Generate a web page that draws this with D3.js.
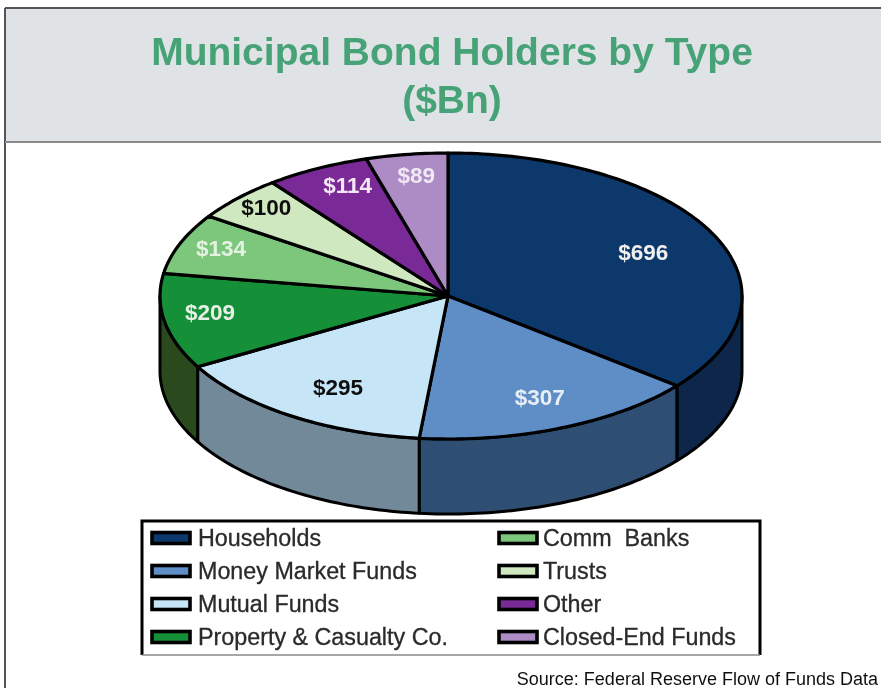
<!DOCTYPE html>
<html><head><meta charset="utf-8">
<script src="https://cdn.jsdelivr.net/npm/d3@7"></script>
<style>html,body{margin:0;padding:0;background:#fff}svg{display:block}</style>
</head><body><svg id="c" width="881" height="688"></svg>
<script>
const categories=["Households","Money Market Funds","Mutual Funds","Property & Casualty Co.","Comm  Banks","Trusts","Other","Closed-End Funds"];
const values=[696,307,295,209,134,100,114,89];
const topColors=["#10396c","#5e8ec6","#c6e5f7","#169039","#7cc77b","#cfe8c0","#7a2a96","#ad8cc6"];
const sideColors=["#08284a","#2f5073","#72899a","#2b4a1e","#3f6a3e","#6a8060","#40184f","#5e4a6e"];
const labelColors=["#f0f0f0","#e8eef6","#111","#e6f0e6","#e4f2e2","#111","#f5e8f5","#f0e8f5"];
const labelRadiusX=[.736,.81,.70,.84,.847,.865,.767,.77];
const labelRadiusY=[.714,.765,.76,.625,.91,.913,.874,.855];
const titleLines=["Municipal Bond Holders by Type","($Bn)"];
const sourceText="Source: Federal Reserve Flow of Funds Data";

const svg=d3.select("#c");
const defs=svg.append("defs");
defs.append("filter").attr("id","soft").attr("x","-5%").attr("y","-5%").attr("width","110%").attr("height","110%")
  .append("feGaussianBlur").attr("stdDeviation",0.6);
const root=svg.append("g").attr("filter","url(#soft)");
root.append("rect").attr("x",0).attr("y",0).attr("width",881).attr("height",688).attr("fill","#fff");

// frame + title band
root.append("rect").attr("x",5).attr("y",8).attr("width",876).attr("height",134).attr("fill","#dfe3e6");
root.append("line").attr("x1",5).attr("x2",881).attr("y1",8).attr("y2",8).attr("stroke","#555").attr("stroke-width",2);
root.append("line").attr("x1",5).attr("x2",5).attr("y1",8).attr("y2",688).attr("stroke","#555").attr("stroke-width",2);
root.append("line").attr("x1",5).attr("x2",881).attr("y1",142).attr("y2",142).attr("stroke","#8a8a8a").attr("stroke-width",2);
root.selectAll("text.title").data(titleLines).join("text").attr("class","title")
  .attr("x",452).attr("y",(d,i)=>[65,113][i]).attr("text-anchor","middle")
  .attr("font-family","Liberation Sans").attr("font-weight","bold").attr("font-size",39)
  .attr("fill","#46a377").text(d=>d);

// pie
const depth=75;
const pie=d3.pie().sort(null).value(d=>d.v).startAngle(0).endAngle(2*Math.PI);
const arcs=pie(values.map((v,i)=>({v,i})));
const px=d3.scaleLinear().domain([-1,0,1]).range([160,448,742]);
const py=d3.scaleLinear().domain([-1,1]).range([153,439]);
const g=root.append("g");
const line=d3.line();
const sweep=(a0,a1)=>{const n=Math.max(2,Math.ceil((a1-a0)/0.02));return d3.range(n+1).map(k=>a0+(a1-a0)*k/n);};
const rim=a=>[px(Math.sin(a)),py(-Math.cos(a))];
const sidePath=d=>{
  const a0=Math.max(d.startAngle,Math.PI/2),a1=Math.min(d.endAngle,3*Math.PI/2);
  if(a1<=a0) return null;
  const as=sweep(a0,a1);
  return line(as.map(rim).concat(as.slice().reverse().map(a=>{const p=rim(a);return [p[0],p[1]+depth];})))+"Z";
};
const topPath=d=>line([[px(0),py(0)]].concat(sweep(d.startAngle,d.endAngle).map(rim)))+"Z";
g.selectAll("path.side").data(arcs).join("path").attr("class","side")
  .attr("d",sidePath).attr("fill",d=>sideColors[d.data.i]).attr("stroke","#000").attr("stroke-width",3).attr("stroke-linejoin","round");
g.selectAll("path.top").data(arcs).join("path").attr("class","top")
  .attr("d",topPath).attr("fill",d=>topColors[d.data.i])
  .attr("stroke","#000").attr("stroke-width",3.2).attr("stroke-linejoin","round");
g.selectAll("text.val").data(arcs).join("text").attr("class","val")
  .attr("x",d=>px(Math.sin((d.startAngle+d.endAngle)/2)*labelRadiusX[d.data.i]))
  .attr("y",d=>py(-Math.cos((d.startAngle+d.endAngle)/2)*labelRadiusY[d.data.i]))
  .attr("dy","0.36em").attr("text-anchor","middle")
  .attr("font-family","Liberation Sans").attr("font-weight","bold").attr("font-size",22.5)
  .attr("fill",d=>labelColors[d.data.i]).text(d=>"$"+d.value);

// legend
const lx=142,ly=521,lw=618,lh=134;
const lg=root.append("g");
lg.append("rect").attr("x",lx).attr("y",ly).attr("width",lw).attr("height",lh).attr("fill","#fff");
lg.append("path").attr("d",`M${lx},${ly+lh}V${ly}H${lx+lw}V${ly+lh}`).attr("fill","none").attr("stroke","#000").attr("stroke-width",3);
lg.append("line").attr("x1",lx).attr("x2",lx+lw).attr("y1",ly+lh).attr("y2",ly+lh).attr("stroke","#888").attr("stroke-width",1.5);
const colX=d3.scaleOrdinal().domain([0,1]).range([152,499]);
const rowY=d3.scalePoint().domain([0,1,2,3]).range([538,637]);
const item=lg.selectAll("g.it").data(categories).join("g").attr("class","it")
  .attr("transform",(d,i)=>`translate(${colX(Math.floor(i/4))},${rowY(i%4)})`);
item.append("rect").attr("x",0).attr("y",-5.5).attr("width",38).attr("height",11)
  .attr("fill",(d,i)=>topColors[i]).attr("stroke","#000").attr("stroke-width",3.6);
item.append("text").attr("x",(d,i)=>i<4?46:44).attr("y",0).attr("dy","0.35em")
  .attr("font-family","Liberation Sans").attr("font-size",23.3).attr("fill","#2a2a2a")
  .attr("stroke","#2a2a2a").attr("stroke-width",0.3).style("white-space","pre").text(d=>d);

root.append("text").attr("x",878).attr("y",685).attr("text-anchor","end")
  .attr("font-family","Liberation Sans").attr("font-size",18).attr("fill","#111").text(sourceText);
</script></body></html>
